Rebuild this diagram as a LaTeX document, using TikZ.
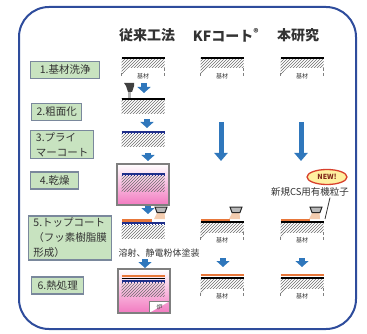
\documentclass[tikz,border=0pt]{standalone}
\usepackage{fontspec}
\setmainfont{Noto Sans CJK JP}
\usetikzlibrary{arrows.meta,patterns,shapes.geometric,positioning}
\definecolor{frameblue}{HTML}{2E4C9C}
\definecolor{boxfill}{HTML}{C8E3C0}
\definecolor{boxline}{HTML}{7A889C}
\definecolor{arrowblue}{HTML}{2F77BC}
\definecolor{primer}{HTML}{1F2F8A}
\definecolor{topcoat}{HTML}{E8773A}
\definecolor{spray}{HTML}{F4CDB0}
\definecolor{ovenpink}{HTML}{F27AC0}
\definecolor{ovengray}{HTML}{7F7F7F}
\definecolor{newred}{HTML}{D8402C}
\definecolor{newyellow}{HTML}{FFF0A0}
\definecolor{txt}{HTML}{333333}
\definecolor{hatchgray}{HTML}{6E6E6E}

\begin{document}
\begin{tikzpicture}[x=1pt,y=-1pt,
  stepbox/.style={draw=boxline,fill=boxfill,line width=1.4pt,align=left,inner xsep=4pt,inner ysep=2pt,minimum height=17,text=txt,font=\fontsize{10.5}{15}\selectfont},
  head/.style={text=txt,font=\fontsize{14}{14}\selectfont\bfseries},
  small/.style={text=txt,font=\fontsize{6}{6}\selectfont,inner sep=0pt},
  blk/.style={draw=arrowblue,line width=6pt,-{Triangle[width=13pt,length=6pt]}},
  longblk/.style={draw=arrowblue,line width=5pt,-{Triangle[width=13pt,length=8pt]}},
  hatch/.style={pattern=north east lines,pattern color=hatchgray},
  base/.style={line width=1.8pt,black},
  coat/.style={line width=2pt,topcoat},
  oven/.style={draw=ovengray,line width=2.5pt},
  sub/.pic={
    \fill[hatch] (-21.5,0) rectangle (21.5,10);
    \fill[hatch] (-21.5,10) -- (-21.5,17) -- (-15,10) -- cycle;
    \draw[gray,densely dashed,line width=0.8pt] (21.5,10) -- (21.5,19);
    \draw[gray,densely dashed,line width=0.8pt] (-21.5,15) -- (-21.5,19);
    \draw[base] (-21.5,0) -- (21.5,0);
    \node[small] (-lbl) at (0,18) {基材};
  },
  primerline/.pic={
    \draw[primer,line width=1.4pt] (-21.5,0) -- (21.5,0);
    \foreach \k in {0,...,14}
      \draw[primer,line width=0.9pt] (-20.5+3*\k,0) -- ++(0,2.3);
  },
  gun/.pic={
    \fill[spray] (-3.5,5) -- (3.5,5) -- (4,12) -- (-7,12) -- cycle;
    \filldraw[fill=gray!55,draw=black!85,line width=1pt] (-6,0) -- (6,0) -- (4,5.5) -- (-4,5.5) -- cycle;
  }]
\useasboundingbox (0,0) rectangle (367,334);
\draw[frameblue,line width=2pt,rounded corners=30] (19,7) rectangle (356,329);

\node[head] (h1) at (147,35) {従来工法};
\node[head] (h2) at (226,35) {KFコート\textsuperscript{®}};
\node[head] (h3) at (298,35) {本研究};

\node[stepbox,minimum width=69,anchor=west] (s1) at (30,70) {1.基材洗浄};
\node[stepbox,minimum width=50,anchor=west] (s2) at (31,112) {2.粗面化};
\node[stepbox,minimum width=63,anchor=west] (s3) at (30,144.5) {3.プライ\\マーコート};
\node[stepbox,minimum width=48,anchor=west] (s4) at (30,180.5) {4.乾燥};
\node[stepbox,minimum width=83,anchor=west] (s5) at (28,238) {5.トップコート\\（フッ素樹脂膜\\形成）};
\node[stepbox,minimum width=52,anchor=west] (s6) at (31,285.5) {6.熱処理};

% 1. substrates
\pic (c1) at (143,58) {sub};
\pic (k1) at (222,58) {sub};
\pic (n1) at (302,58) {sub};

% 2. blasting
\draw[blk] (144,83) -- (144,93);
\fill[gray!60] (127.5,91) rectangle (131,98);
\fill[black!75] (124,83) -- (134,83) -- (134,86) -- (132,92) -- (128,92) -- (126,86) -- cycle;
\fill[hatch] (121.5,99) rectangle (164.5,114);
\draw[base,line width=1.5pt] (121.5,99) -- (164.5,99);

% 3. primer
\draw[blk] (147,119) -- (147,128);
\fill[hatch] (121.5,134) rectangle (164.5,147);
\pic at (143,132) {primerline};

\draw[longblk] (221,122) -- (221,161);
\draw[longblk] (301,122) -- (301,161);

% 4. drying
\draw[blk] (148,153) -- (148,161);
\fill[top color=white,middle color=ovenpink!20,bottom color=ovenpink] (117,164) rectangle (169,205);
\fill[hatch] (121.5,176) rectangle (164.5,192);
\pic at (143,174) {primerline};
\draw[oven] (117,164) rectangle (169,205);

\node[ellipse,draw=newred,fill=newyellow,line width=1.3pt,minimum width=40,minimum height=15,inner sep=0pt,text=newred!60!black,font=\fontsize{7}{7}\selectfont\bfseries] (new) at (327,177) {NEW!};
\node[text=txt,font=\fontsize{9.5}{9.5}\selectfont,inner sep=1pt] (cs) at (310,192) {新規CS用有機粒子};

% 5. top coat
\draw[blk] (148,206) -- (148,214);
\fill[hatch] (121.5,225) rectangle (164.5,238);
\pic at (143,223) {primerline};
\fill[topcoat] (122,218.5) rectangle (152,221.5);
\pic at (161,207) {gun};

\pic (k5) at (222,222) {sub};
\fill[topcoat] (200.5,218.5) rectangle (230,221);
\pic at (236,207) {gun};

\pic (n5) at (302,222) {sub};
\fill[topcoat] (280.5,218.5) rectangle (310,221);
\pic at (316,207) {gun};
\coordinate (tip) at (325,219);
\draw[txt,line width=0.8pt] ([xshift=20pt]cs.south) -- (tip);

\node[text=txt,font=\fontsize{9}{9}\selectfont] (meth) at (159,253) {溶射、静電粉体塗装};

% 6. heat treatment
\draw[blk] (145,259) -- (145,268);
\draw[blk] (223,258) -- (223,267);
\draw[blk] (302,258) -- (302,267);

\fill[top color=white,middle color=ovenpink!25,bottom color=ovenpink] (118,269) rectangle (170,313);
\fill[hatch] (121.5,283) rectangle (164.5,296);
\pic at (143,281) {primerline};
\draw[base,line width=1.5pt] (121.5,278.5) -- (164.5,278.5);
\draw[coat] (121.5,276) -- (164.5,276);
\filldraw[fill=white,draw=ovengray,line width=1pt] (149,313) |- (170,301);
\node[small] (ro) at (159.5,307.5) {炉};
\draw[oven] (118,269) rectangle (170,313);

\pic (k6) at (222,278) {sub};
\draw[coat] (200.5,275) -- (243.5,275);
\pic (n6) at (302,278) {sub};
\draw[coat] (280.5,275) -- (323.5,275);
\end{tikzpicture}
\end{document}
